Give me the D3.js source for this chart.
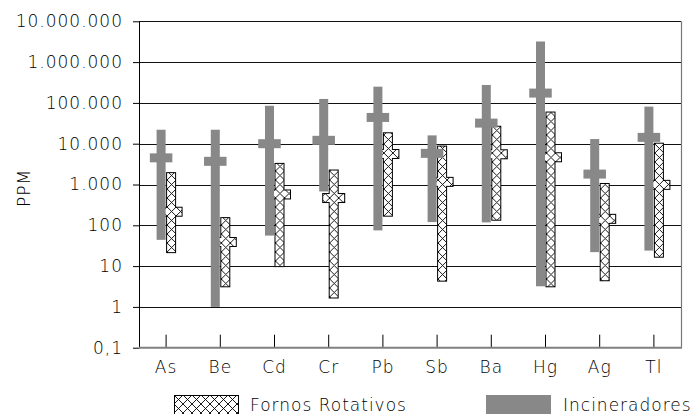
<!DOCTYPE html>
<html>
<head>
<meta charset="utf-8">
<script src="https://d3js.org/d3.v7.min.js"></script>
<style>
  body { margin: 0; background: #fff; }
  svg text { font-family: "DejaVu Sans ExtraLight", "DejaVu Sans", sans-serif; font-weight: 200; font-size: 17px; letter-spacing: 1px; fill: #000; }
</style>
</head>
<body>
<script>
// Elements and PPM ranges
const elements = ["As", "Be", "Cd", "Cr", "Pb", "Sb", "Ba", "Hg", "Ag", "Tl"];

// Incineradores: min, max and mean
const incMin  = [44, 1, 56, 675, 75, 120, 118, 3.2, 22, 24];
const incMax  = [22000, 22000, 85000, 125000, 250000, 16000, 275000, 3200000, 13000, 81000];
const incMean = [4500, 3700, 10000, 12100, 44000, 5800, 32000, 174000, 1800, 14300];

// Fornos Rotativos: min, max and mean
const fornMin  = [22, 3.2, 10, 1.7, 172, 4.4, 137, 3.2, 4.5, 17];
const fornMax  = [1900, 150, 3200, 2200, 18000, 8500, 26000, 58000, 1030, 10000];
const fornMean = [215, 39, 570, 466, 5600, 1160, 5500, 4650, 144, 980];

const yTicks = [0.1, 1, 10, 100, 1000, 10000, 100000, 1000000, 10000000];

const W = 696, H = 414;
const plotL = 139, plotR = 681, plotT = 21.3, plotB = 347.7;
const gray = "#888888";

const svg = d3.select("body").append("svg")
  .attr("width", W)
  .attr("height", H);

svg.append("rect").attr("width", W).attr("height", H).attr("fill", "#fff");

const x = d3.scaleBand().domain(elements).range([plotL, plotR]).padding(0);
const y = d3.scaleLog().domain([0.1, 1e7]).range([plotB, plotT]);
const cx = d => x(d) + x.bandwidth() / 2;

const ptBR = d3.formatLocale({ decimal: ",", thousands: ".", grouping: [3], currency: ["", ""] });
const fmt = ptBR.format(",~f");

// hatch patterns, one per element so the crosses line up with each bar
const defs = svg.append("defs");
const addHatch = (id, x0, y0) => {
  const p = defs.append("pattern")
    .attr("id", id)
    .attr("patternUnits", "userSpaceOnUse")
    .attr("x", x0).attr("y", y0)
    .attr("width", 9).attr("height", 9);
  p.append("rect").attr("width", 9).attr("height", 9).attr("fill", "#fff");
  p.append("path").attr("d", "M0,0L9,9M9,0L0,9")
    .attr("stroke", "#000").attr("stroke-width", 0.9);
};
elements.forEach((d, i) => addHatch(`hatch-${i}`, cx(d) + 1, 0));
addHatch("hatch-legend", 174, 395);

// gridlines
svg.append("g")
  .selectAll("line")
  .data(yTicks.filter(d => d > 0.1))
  .join("line")
  .attr("x1", plotL).attr("x2", plotR)
  .attr("y1", d => Math.round(y(d)) + 0.5).attr("y2", d => Math.round(y(d)) + 0.5)
  .attr("stroke", "#111").attr("stroke-width", 1);

// right border
svg.append("line")
  .attr("x1", plotR + 0.5).attr("x2", plotR + 0.5)
  .attr("y1", plotT).attr("y2", plotB)
  .attr("stroke", "#777").attr("stroke-width", 1.2);

// x axis (ticks point up into the plot)
const xAxis = svg.append("g")
  .attr("transform", `translate(0,${plotB})`)
  .call(d3.axisBottom(x).tickSize(-13).tickSizeOuter(0).tickPadding(13));
xAxis.select(".domain").remove();
xAxis.selectAll(".tick line").attr("stroke", "#000");
xAxis.selectAll("text").attr("font-size", null).attr("font-family", null);

// y axis
const yAxis = svg.append("g")
  .attr("transform", `translate(${plotL},0)`)
  .call(d3.axisLeft(y).tickValues(yTicks).tickFormat(fmt).tickSize(6).tickSizeOuter(0).tickPadding(10));
yAxis.select(".domain").attr("stroke", "#000");
yAxis.selectAll(".tick line").attr("stroke", "#000");
yAxis.selectAll("text").attr("font-size", null).attr("font-family", null);

// Fornos Rotativos: outlines first, then hatch fill on top so bar + mean merge into one shape
const bw = 8, mw = 21, mh = 8;
const forn = elements.map((d, i) => ({
  i,
  bar: { x: cx(d) + 1, y: y(fornMax[i]), w: bw, h: y(fornMin[i]) - y(fornMax[i]) },
  mean: { x: cx(d) + 1 + bw / 2 - mw / 2, y: y(fornMean[i]) - mh / 2, w: mw, h: mh }
}));
const fornG = svg.append("g");
["bar", "mean"].forEach(k => {
  fornG.selectAll(`.o-${k}`).data(forn).join("rect")
    .attr("class", `o-${k}`)
    .attr("x", d => d[k].x).attr("y", d => d[k].y)
    .attr("width", d => d[k].w).attr("height", d => d[k].h)
    .attr("fill", "none").attr("stroke", "#000").attr("stroke-width", 2);
});
["bar", "mean"].forEach(k => {
  fornG.selectAll(`.f-${k}`).data(forn).join("rect")
    .attr("class", `f-${k}`)
    .attr("x", d => d[k].x).attr("y", d => d[k].y)
    .attr("width", d => d[k].w).attr("height", d => d[k].h)
    .attr("fill", d => `url(#hatch-${d.i})`);
});

// Incineradores: solid gray range bar with wider mean block
const incG = svg.append("g");
incG.selectAll(".inc-bar").data(elements).join("rect")
  .attr("class", "inc-bar")
  .attr("x", d => cx(d) - 9.5)
  .attr("y", (d, i) => y(incMax[i]))
  .attr("width", 9)
  .attr("height", (d, i) => y(incMin[i]) - y(incMax[i]))
  .attr("fill", gray);
incG.selectAll(".inc-mean").data(elements).join("rect")
  .attr("class", "inc-mean")
  .attr("x", d => cx(d) - 5 - 11.25)
  .attr("y", (d, i) => y(incMean[i]) - 4.5)
  .attr("width", 22.5)
  .attr("height", 9)
  .attr("fill", gray);

// bottom axis line
svg.append("line")
  .attr("x1", plotL).attr("x2", plotR + 1)
  .attr("y1", plotB).attr("y2", plotB)
  .attr("stroke", "#808080").attr("stroke-width", 2);

// y axis title
svg.append("text")
  .attr("transform", "translate(30,188) rotate(-90)")
  .attr("text-anchor", "middle")
  .text("PPM");

// legend
svg.append("rect")
  .attr("x", 174.5).attr("y", 395.5).attr("width", 64).attr("height", 20)
  .attr("fill", "url(#hatch-legend)").attr("stroke", "#000").attr("stroke-width", 1);
svg.append("text").attr("x", 250).attr("y", 411).text("Fornos Rotativos");
svg.append("rect")
  .attr("x", 486).attr("y", 395).attr("width", 65).attr("height", 20)
  .attr("fill", gray);
svg.append("text").attr("x", 563).attr("y", 411).text("Incineradores");
</script>
</body>
</html>
